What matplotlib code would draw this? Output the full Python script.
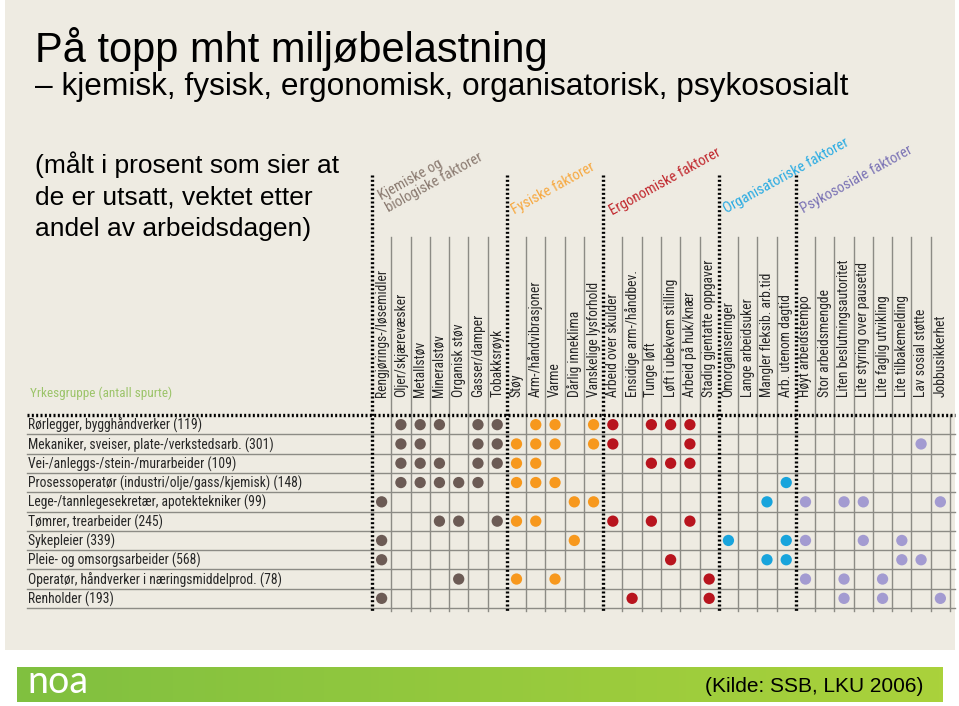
import numpy as np
import matplotlib
matplotlib.use("Agg")
import matplotlib.pyplot as plt
import matplotlib.transforms as mtransforms
from matplotlib import font_manager
from matplotlib.patches import Rectangle

W, H = 959, 706

occupations = [
    "Rørlegger, bygghåndverker (119)",
    "Mekaniker, sveiser, plate-/verkstedsarb. (301)",
    "Vei-/anleggs-/stein-/murarbeider (109)",
    "Prosessoperatør (industri/olje/gass/kjemisk) (148)",
    "Lege-/tannlegesekretær, apotektekniker (99)",
    "Tømrer, trearbeider (245)",
    "Sykepleier (339)",
    "Pleie- og omsorgsarbeider (568)",
    "Operatør, håndverker i næringsmiddelprod. (78)",
    "Renholder (193)",
]

group_names = ["Kjemiske og\nbiologiske faktorer", "Fysiske faktorer",
               "Ergonomiske faktorer", "Organisatoriske faktorer",
               "Psykososiale faktorer"]

chem_factors = ["Rengjørings-/løsemidler", "Oljer/skjærevæsker", "Metallstøv",
                "Mineralstøv", "Organisk støv", "Gasser/damper", "Tobakksrøyk"]
phys_factors = ["Støy", "Arm-/håndvibrasjoner", "Varme", "Dårlig inneklima",
                "Vanskelige lysforhold"]
ergo_factors = ["Arbeid over skulder", "Ensidige arm-/håndbev.", "Tunge løft",
                "Løft i ubekvem stilling", "Arbeid på huk/knær",
                "Stadig gjentatte oppgaver"]
org_factors = ["Omorganiseringer", "Lange arbeidsuker", "Mangler fleksib. arb.tid",
               "Arb. utenom dagtid"]
psych_factors = ["Høyt arbeidstempo", "Stor arbeidsmengde", "Liten beslutningsautoritet",
                 "Lite styring over pausetid", "Lite faglig utvikling",
                 "Lite tilbakemelding", "Lav sosial støtte", "Jobbusikkerhet"]

# which factors (index within the group) each occupation is "on top" for
chem_hits = [[1, 2, 3, 5, 6], [1, 2, 5, 6], [1, 2, 3, 5, 6], [1, 2, 3, 4, 5], [0],
             [3, 4, 6], [0], [0], [4], [0]]
phys_hits = [[1, 2, 4], [0, 1, 2, 4], [0, 1], [0, 1, 2], [3, 4],
             [0, 1], [3], [], [0, 2], []]
ergo_hits = [[0, 2, 3, 4], [0, 4], [2, 3, 4], [], [],
             [0, 2, 4], [], [3], [5], [1, 5]]
org_hits = [[], [], [], [3], [2], [], [0, 3], [2, 3], [], []]
psych_hits = [[], [6], [], [], [0, 2, 3, 7],
              [], [0, 3, 5], [5, 6], [0, 2, 4], [2, 4, 7]]

dot_colors = ["#6c5b55", "#f7981d", "#b8141e", "#18a4dc", "#a39bd1"]
head_colors = ["#8a7a70", "#f7a941", "#c1272d", "#29abe2", "#7b73b5"]

installed = {f.name for f in font_manager.fontManager.ttflist}
narrow = next((n for n in ["Roboto Condensed", "Liberation Sans Narrow",
                           "DejaVu Sans Condensed", "Open Sans Condensed"]
               if n in installed), "Roboto")
sans = "Liberation Sans"

fig = plt.figure(figsize=(W / 100, H / 100), dpi=100)
fig.patch.set_facecolor("white")

bg = fig.add_axes([0, 0, 1, 1])
bg.set_xlim(0, W)
bg.set_ylim(H, 0)
bg.axis("off")
bg.add_patch(Rectangle((5, 0), 950, 650, facecolor="#eeebe2", edgecolor="none"))

grad = np.linspace(0, 1, 256)[None, :]
cmap = matplotlib.colors.LinearSegmentedColormap.from_list("g", ["#80c040", "#aad23b"])
bg.imshow(grad, extent=(17, 943, 702, 667), aspect="auto", cmap=cmap, zorder=1)
bg.set_xlim(0, W)
bg.set_ylim(H, 0)

bg.text(35, 62, "På topp mht miljøbelastning", fontsize=30, family=sans, va="baseline")
bg.text(35, 95, "– kjemisk, fysisk, ergonomisk, organisatorisk, psykososialt",
        fontsize=22.8, family=sans, va="baseline")
note = ["(målt i prosent som sier at", "de er utsatt, vektet etter", "andel av arbeidsdagen)"]
for k, line in enumerate(note):
    bg.text(35, 173 + 31.5 * k, line, fontsize=19, family=sans, va="baseline")
bg.text(30, 393, "Yrkesgruppe (antall spurte)", fontsize=9.5, family=narrow,
        color="#9cc46a", va="center")
bg.text(27, 693, "noa", fontsize=27, family="Lato", color="white", va="baseline",
        zorder=3)
bg.text(923, 692, "(Kilde: SSB, LKU 2006)", fontsize=15, family=sans, ha="right",
        va="baseline", zorder=3)

# group headings
head_pos = [(382, 200), (515, 214), (613, 215), (727, 213), (804, 213)]
for name, (x, y), c in zip(group_names, head_pos, head_colors):
    for k, line in enumerate(name.split("\n")):
        bg.text(x + 6.8 * k, y + 12.5 * k, line, rotation=29, rotation_mode="anchor",
                ha="left", va="baseline", fontsize=10.5, family=narrow, color=c)

# grid
factors = chem_factors + phys_factors + ergo_factors + org_factors + psych_factors
hits = [chem_hits, phys_hits, ergo_hits, org_hits, psych_hits]
sizes = [len(chem_factors), len(phys_factors), len(ergo_factors),
         len(org_factors), len(psych_factors)]
offsets = np.concatenate([[0], np.cumsum(sizes)[:-1]])
ncol, nrow = len(factors), len(occupations)

ax = fig.add_axes([372 / W, 1 - 608 / H, 578 / W, 193 / H])
ax.set_xlim(-0.5, ncol - 0.5)
ax.set_ylim(nrow - 0.5, -0.5)
ax.axis("off")
px = 19.27  # pixels per cell

gray = "#8c8b85"
boundaries = set(offsets.tolist())
head_top = -0.5 - (415 - 237) / px
dot_top = -0.5 - (415 - 175) / px
bottom = nrow - 0.5 + 3 / px
for k in range(ncol + 1):
    xk = k - 0.5
    if k in boundaries:
        ax.plot([xk, xk], [dot_top, bottom], color="black", lw=2.4,
                linestyle=(0, (0.6, 0.7)), clip_on=False, zorder=3)
    else:
        ax.plot([xk, xk], [-0.5, bottom], color=gray, lw=1.0, clip_on=False, zorder=1)
        if k < ncol:
            ax.plot([xk, xk], [head_top, -0.5], color=gray, lw=1.0, clip_on=False, zorder=1)

blend = mtransforms.blended_transform_factory(bg.transData, ax.transData)
for r in range(nrow + 1):
    yr = r - 0.5
    if r == 0:
        ax.plot([27, 955], [yr, yr], transform=blend, color="black", lw=2.4,
                linestyle=(0, (0.6, 0.7)), clip_on=False, zorder=3)
    else:
        ax.plot([27, 955], [yr, yr], transform=blend, color=gray, lw=1.0,
                clip_on=False, zorder=1)

for i, name in enumerate(occupations):
    ax.text(28, i + 0.05, name, transform=blend, fontsize=9.8, family=narrow,
            color="#262626", va="center", ha="left")

for j, name in enumerate(factors):
    ax.text(j, -0.5 - 18 / px, name, rotation=90, ha="center", va="bottom",
            fontsize=9.8, family=narrow, color="#262626", clip_on=False)

for g in range(len(hits)):
    xs, ys = [], []
    for r, cols in enumerate(hits[g]):
        for c in cols:
            xs.append(offsets[g] + c)
            ys.append(r)
    ax.scatter(xs, ys, s=66, color=dot_colors[g], edgecolors="none", zorder=4)

fig.savefig("out.png", dpi=100, facecolor=fig.get_facecolor())
